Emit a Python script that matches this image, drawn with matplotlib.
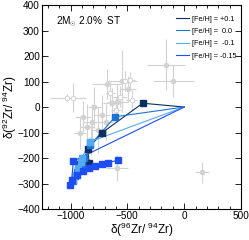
import numpy as np
import matplotlib
matplotlib.use('Agg')
import matplotlib.pyplot as plt

plt.rcParams['font.family'] = ['Liberation Sans', 'DejaVu Sans']
plt.rcParams['mathtext.fontset'] = 'custom'
plt.rcParams['mathtext.rm'] = 'Liberation Sans'
plt.rcParams['mathtext.it'] = 'Liberation Sans'

# model tracks (delta 96Zr/94Zr, delta 92Zr/94Zr)
feh_labels = ['[Fe/H] = +0.1', '[Fe/H] =  0.0', '[Fe/H] =  -0.1', '[Fe/H] = -0.15']
feh_colors = ['#0d2f5e', '#1a73d9', '#55aaf5', '#1e4cf5']

x_p01 = [0, -365, -720, -850, -835, -915, -930]
y_p01 = [0, 15, -100, -165, -218, -225, -245]

x_000 = [0, -606, -830, -880, -900, -945, -960, -975]
y_000 = [0, -38, -150, -200, -225, -255, -270, -290]

x_m01 = [0, -828, -900, -935, -905, -950, -975]
y_m01 = [0, -136, -200, -240, -215, -265, -285]

x_m015 = [0, -975, -990, -1005, -945, -890, -834, -784, -725, -667, -579]
y_m015 = [0, -212, -288, -306, -266, -250, -240, -230, -225, -218, -208]

# grain measurements
grain_x = [-160, -96, 154, -1033, -975, -682, -549, -520, -491, -637, -588, -652,
           -564, -790, -892, -813, -725, -857, -916, -593, -476, -462, -600, -690,
           -760, -820]
grain_y = [165, 102, -256, 37, 37, 89, 102, 102, 71, 15, 21, 54, 41, -1, -38, -57,
           -31, -77, -103, -240, 106, 27, -10, -60, -90, -130]
grain_xerr = [165, 180, 62, 150, 115, 125, 130, 60, 70, 80, 90, 40, 60, 60, 70, 80,
              70, 60, 50, 95, 40, 50, 40, 60, 50, 40]
grain_yerr = [100, 63, 42, 15, 57, 59, 120, 40, 50, 60, 70, 50, 40, 80, 60, 70, 80,
              90, 60, 50, 30, 40, 50, 70, 90, 60]
grain_open = [0, 0, 0, 1, 1, 0, 0, 1, 0, 0, 0, 1, 1, 0, 0, 0, 0, 0, 0, 0, 1, 1, 1, 0,
              0, 0]

fig = plt.figure(figsize=(2.49, 2.40), dpi=100)
ax = fig.add_axes([0.169, 0.129, 0.799, 0.850])

gray = '#d2d2d2'
for gx, gy, ex, ey, op in zip(grain_x, grain_y, grain_xerr, grain_yerr, grain_open):
    ax.errorbar(gx, gy, xerr=ex, yerr=ey, fmt='o', ms=3.3, color=gray, ecolor=gray,
                elinewidth=0.8, capsize=0, mfc='white' if op else gray, mec=gray,
                mew=0.7, zorder=1)

tracks = [(x_p01, y_p01), (x_000, y_000), (x_m01, y_m01), (x_m015, y_m015)]
for (tx, ty), lab, col in zip(tracks, feh_labels, feh_colors):
    ax.plot(tx, ty, '-', color=col, lw=0.8, label=lab, zorder=3)
    ax.plot(tx[1:], ty[1:], 's', color=col, ms=4.0, mec=col, zorder=4)

ax.set_xlim(-1250, 500)
ax.set_ylim(-400, 400)
ax.set_xticks([-1000, -500, 0, 500])
ax.set_xticks(np.arange(-1200, 501, 100), minor=True)
ax.set_yticks(np.arange(-400, 401, 100))
ax.tick_params(axis='both', which='both', direction='in', top=True, right=True,
               labelsize=7.2, width=0.6, pad=1.5)
ax.tick_params(which='major', length=4)
ax.tick_params(which='minor', length=2)
for s in ax.spines.values():
    s.set_linewidth(0.8)

ax.set_xlabel(r'$\delta$($^{96}$Zr/ $^{94}$Zr)', fontsize=8.5, labelpad=0)
ax.set_ylabel(r'$\delta$($^{92}$Zr/ $^{94}$Zr)', fontsize=8.5, labelpad=-1)

ax.text(0.07, 0.92, r'2M$_{\odot}$ 2.0%  ST', transform=ax.transAxes, fontsize=7.2,
        va='center', ha='left')

ax.legend(loc='upper right', frameon=False, fontsize=5.2, handlelength=1.9,
          handletextpad=0.4, labelspacing=0.75, borderaxespad=0.2,
          bbox_to_anchor=(1.0, 0.97))

fig.savefig('out.png', dpi=100)
